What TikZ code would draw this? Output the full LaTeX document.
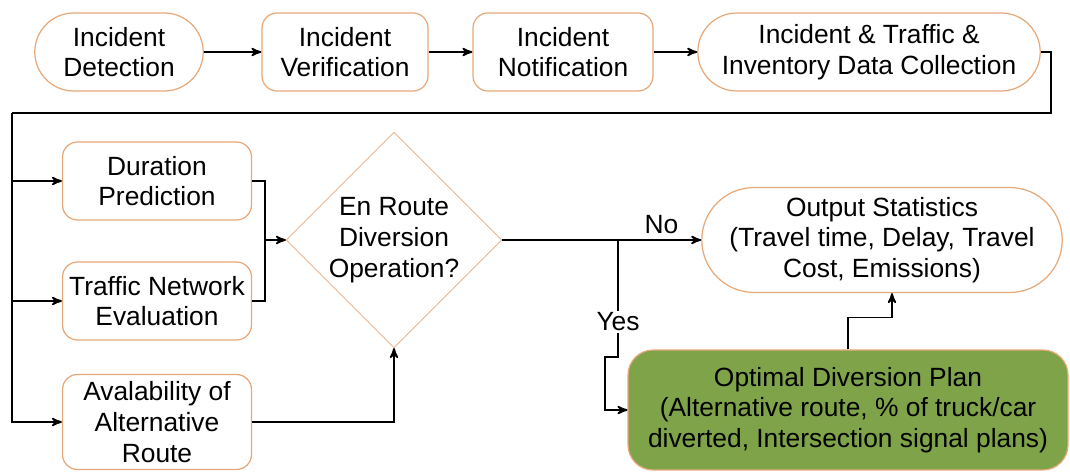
\documentclass[tikz,border=0pt]{standalone}
\usepackage{fontspec}
\setmainfont{Liberation Sans}
\usepackage{tikz}
\usetikzlibrary{arrows, calc, positioning, shapes.geometric, shapes.misc}
\definecolor{boxline}{RGB}{230,168,120}
\definecolor{plangreen}{RGB}{126,163,72}
\tikzset{
  >=stealth',
  every node/.style={font=\fontsize{15}{17.5}\selectfont},
  stepround/.style={
    rounded rectangle,draw=boxline,line width=0.7pt,align=center,inner sep=1pt,
    minimum height=1.56cm
  },
  stepbox/.style={
    rectangle,draw=boxline,line width=0.7pt,rounded corners=0.3cm,align=center,inner sep=1pt,
    minimum height=1.56cm
  },
  decision/.style={
    diamond,draw=boxline,align=center,inner sep=0pt,
    minimum width=4.24cm,minimum height=3.72cm
  },
  plan/.style={
    stepbox,fill=plangreen,rounded corners=0.5cm,minimum width=8.8cm,minimum height=2.4cm
  },
  flow/.style={draw,line width=1pt,->},
  link/.style={draw,line width=1pt},
  lbl/.style={fill=white,inner sep=1pt}
}

\begin{document}
\begin{tikzpicture}[x=0.02cm,y=-0.02cm]
  \useasboundingbox (0,0) rectangle (1070,472);

  % top row
  \node[stepround,minimum width=3.44cm] at (119,52) (det){Incident\\Detection};
  \node[stepbox,minimum width=3.32cm] at (345,52) (ver){Incident\\Verification};
  \node[stepbox,minimum width=3.6cm] at (563,52) (notif){Incident\\Notification};
  \node[stepround,minimum width=6.92cm] at (869,52) (data){Incident \& Traffic \&\\Inventory Data Collection};

  \draw[flow] (det) -- (ver);
  \draw[flow] (ver) -- (notif);
  \draw[flow] (notif) -- (data);

  % inputs
  \node[stepbox,minimum width=3.78cm] at (157,181) (dur){Duration\\Prediction};
  \node[stepbox,minimum width=3.78cm] at (157,301) (net){Traffic Network\\Evaluation};
  \node[stepbox,minimum width=3.78cm,minimum height=1.9cm] at (157,422) (alt){Avalability of\\Alternative\\Route};

  \coordinate (bus) at (12,113);
  \draw[link] (data.east) -- ++(10,0) |- (bus);
  \draw[flow] (bus) |- (alt.west);
  \draw[flow] (bus |- dur.west) -- (dur.west);
  \draw[flow] (bus |- net.west) -- (net.west);

  % decision
  \node[decision] at (394,240) (dec){En Route\\Diversion\\Operation?};

  \coordinate (mrg) at (265,240);
  \draw[link] (dur.east) -| (mrg) |- (net.east);
  \draw[flow] (mrg) -- (dec.west);
  \draw[flow] (alt.east) -| (dec.south);

  % outcomes
  \node[stepround,minimum width=7.28cm,minimum height=2.1cm] at (882,240) (out){Output Statistics\\(Travel time, Delay, Travel\\Cost, Emissions)};
  \node[plan] at (848,410) (opt){Optimal Diversion Plan\\(Alternative route, \% of truck/car\\diverted, Intersection signal plans)};

  \draw[flow] (dec.east) -- node[above,pos=0.8]{No} (out.west);
  \coordinate (yb) at (618,240);
  \draw[flow] (yb) -- node[lbl,pos=0.7]{Yes} ++(0,117) -- ++(-13,0) |- (opt.west);
  \draw[flow] (opt.north) -- ++(0,-32) -| ([xshift=0.2cm]out.south);
\end{tikzpicture}
\end{document}
